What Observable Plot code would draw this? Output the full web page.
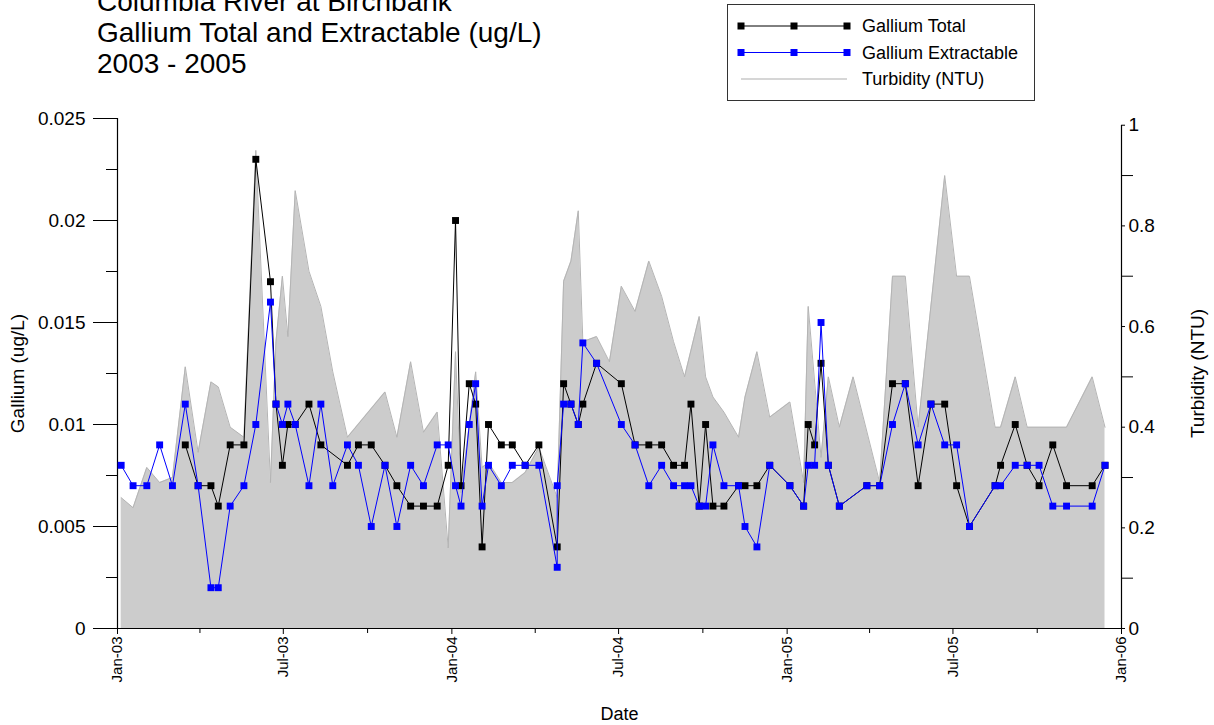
<!DOCTYPE html>
<html>
<head>
<meta charset="utf-8">
<script src="https://cdn.jsdelivr.net/npm/d3@7"></script>
<script src="https://cdn.jsdelivr.net/npm/@observablehq/plot@0.6"></script>
<style>
  html, body { margin: 0; padding: 0; background: #fff; }
  body { width: 1214px; height: 725px; overflow: hidden; position: relative; font-family: "Liberation Sans", Arial, sans-serif; }
  #title { position: absolute; left: 97px; top: -14px; font-size: 28px; line-height: 31px; color: #000; white-space: nowrap; }
  #legend { position: absolute; left: 0; top: 0; }
  #chart { position: absolute; left: 0; top: 0; }
</style>
</head>
<body>
<div id="chart"></div>
<div id="title">Columbia River at Birchbank<br>Gallium Total and Extractable (ug/L)<br>2003 - 2005</div>
<svg id="legend" width="1214" height="110"></svg>
<script>
// ---------- data ----------
const sampleDates = [
  "2003-01-05","2003-01-18","2003-02-02","2003-02-16","2003-03-02","2003-03-16","2003-03-30","2003-04-13","2003-04-21","2003-05-04",
  "2003-05-19","2003-06-01","2003-06-17","2003-06-23","2003-06-30","2003-07-06","2003-07-14","2003-07-29","2003-08-11","2003-08-24",
  "2003-09-09","2003-09-21","2003-10-05","2003-10-20","2003-11-02","2003-11-17","2003-12-01","2003-12-16","2003-12-28","2004-01-05",
  "2004-01-11","2004-01-20","2004-01-27","2004-02-03","2004-02-10","2004-02-24","2004-03-07","2004-03-21","2004-04-05","2004-04-25",
  "2004-04-25","2004-05-02","2004-05-10","2004-05-18","2004-05-23","2004-06-07","2004-07-04","2004-07-19","2004-08-03","2004-08-17",
  "2004-08-30","2004-09-11","2004-09-18","2004-09-27","2004-10-04","2004-10-12","2004-10-24","2004-11-09","2004-11-16","2004-11-29",
  "2004-12-13","2005-01-04","2005-01-19","2005-01-24","2005-01-31","2005-02-07","2005-02-15","2005-02-27","2005-03-29","2005-04-12",
  "2005-04-26","2005-05-10","2005-05-24","2005-06-07","2005-06-22","2005-07-05","2005-07-19","2005-08-16","2005-08-22","2005-09-07",
  "2005-09-20","2005-10-03","2005-10-18","2005-11-02","2005-11-30","2005-12-14"
];
const galliumTotal = [
  null,null,null,null,null,0.009,0.007,0.007,0.006,0.009,
  0.009,0.023,0.017,0.011,0.008,0.010,0.010,0.011,0.009,null,
  0.008,0.009,0.009,0.008,0.007,0.006,0.006,0.006,0.008,0.020,
  0.007,0.012,0.011,0.004,0.010,0.009,0.009,0.008,0.009,0.004,
  null,0.012,0.011,0.010,0.011,0.013,0.012,0.009,0.009,0.009,
  0.008,0.008,0.011,0.006,0.010,0.006,0.006,0.007,0.007,0.007,
  0.008,0.007,0.006,0.010,0.009,0.013,0.008,0.006,0.007,0.007,
  0.012,0.012,0.007,0.011,0.011,0.007,0.005,0.007,0.008,0.010,
  0.008,0.007,0.009,0.007,0.007,0.008
];
const galliumExtractable = [
  0.008,0.007,0.007,0.009,0.007,0.011,0.007,0.002,0.002,0.006,
  0.007,0.010,0.016,0.011,0.010,0.011,0.010,0.007,0.011,0.007,
  0.009,0.008,0.005,0.008,0.005,0.008,0.007,0.009,0.009,0.007,
  0.006,0.010,0.012,0.006,0.008,0.007,0.008,0.008,0.008,0.003,
  0.007,0.011,0.011,0.010,0.014,0.013,0.010,0.009,0.007,0.008,
  0.007,0.007,0.007,0.006,0.006,0.009,0.007,0.007,0.005,0.004,
  0.008,0.007,0.006,0.008,0.008,0.015,0.008,0.006,0.007,0.007,
  0.010,0.012,0.009,0.011,0.009,0.009,0.005,0.007,0.007,0.008,
  0.008,0.008,0.006,0.006,0.006,0.008
];
const turbidityDates = [
  "2003-01-05","2003-01-18","2003-02-02","2003-02-16","2003-03-02","2003-03-16","2003-03-30","2003-04-13","2003-04-21","2003-05-04",
  "2003-05-19","2003-06-01","2003-06-17","2003-06-23","2003-06-30","2003-07-06","2003-07-14","2003-07-29","2003-08-11","2003-08-24",
  "2003-09-09","2003-10-20","2003-11-02","2003-11-17","2003-12-01","2003-12-16","2003-12-28","2004-01-05","2004-01-11","2004-01-27",
  "2004-02-03","2004-02-10","2004-02-24","2004-03-07","2004-03-21","2004-04-05","2004-04-25","2004-05-02","2004-05-10","2004-05-18",
  "2004-05-23","2004-06-07","2004-06-21","2004-07-04","2004-07-19","2004-08-03","2004-08-17","2004-08-30","2004-09-11","2004-09-27",
  "2004-10-04","2004-10-12","2004-10-24","2004-11-09","2004-11-16","2004-11-29","2004-12-13","2005-01-04","2005-01-19","2005-01-24",
  "2005-02-07","2005-02-15","2005-02-27","2005-03-14","2005-04-12","2005-04-26","2005-05-10","2005-05-24","2005-06-22","2005-07-05",
  "2005-07-19","2005-08-16","2005-08-22","2005-09-07","2005-09-20","2005-11-02","2005-11-30","2005-12-14"
];
const turbidity = [
  0.26,0.24,0.32,0.29,0.30,0.52,0.35,0.49,0.48,0.40,
  0.38,0.95,0.29,0.57,0.70,0.58,0.87,0.71,0.64,0.51,
  0.38,0.47,0.38,0.53,0.39,0.43,0.16,0.55,0.27,0.51,
  0.32,0.33,0.29,0.29,0.31,0.36,0.26,0.69,0.73,0.83,
  0.57,0.58,0.53,0.68,0.63,0.73,0.66,0.57,0.50,0.62,
  0.50,0.46,0.43,0.38,0.46,0.55,0.42,0.45,0.29,0.64,
  0.34,0.50,0.40,0.50,0.29,0.70,0.70,0.40,0.90,0.70,
  0.70,0.40,0.40,0.50,0.40,0.40,0.50,0.40
];
const leftTicks = [0, 0.005, 0.01, 0.015, 0.02, 0.025];
const leftTickLabels = ["0", "0.005", "0.01", "0.015", "0.02", "0.025"];
const leftMinorTicks = [0.0025, 0.0075, 0.0125, 0.0175, 0.0225];
const rightTicks = [0, 0.2, 0.4, 0.6, 0.8, 1];
const rightTickLabels = ["0", "0.2", "0.4", "0.6", "0.8", "1"];
const rightMinorTicks = [0.1, 0.3, 0.5, 0.7, 0.9];
const xMajorTicks = ["2003-01-01","2003-07-01","2004-01-01","2004-07-01","2005-01-01","2005-07-01","2006-01-01"];
const xMinorTicks = ["2003-04-01","2003-10-01","2004-04-01","2004-10-01","2005-04-01","2005-10-01"];

// ---------- build ----------
const parse = d3.utcParse("%Y-%m-%d");
const K = 0.02467; // turbidity (NTU) -> left-axis units
const samples = sampleDates.map((d, i) => ({date: parse(d), total: galliumTotal[i], ext: galliumExtractable[i]}));
const totalData = samples.filter(d => d.total != null);
const turb = turbidityDates.map((d, i) => ({date: parse(d), t: turbidity[i] * K}));
const font = "'Liberation Sans', Arial, sans-serif";

const chart = Plot.plot({
  width: 1214,
  height: 725,
  marginLeft: 117,
  marginRight: 93,
  marginTop: 118,
  marginBottom: 97,
  style: {fontFamily: font, fontSize: "17px", color: "#000", background: "transparent", overflow: "visible"},
  x: {type: "utc", domain: [parse("2003-01-01"), parse("2006-01-01")]},
  y: {domain: [0, 0.025]},
  marks: [
    Plot.areaY(turb, {x: "date", y: "t", fill: "#cccccc", curve: "linear"}),
    Plot.lineY(turb, {x: "date", y: "t", stroke: "#b4b4b4", strokeWidth: 1}),
    // frame lines
    Plot.ruleX([parse("2003-01-01")], {y1: 0, y2: 0.025, stroke: "#000", strokeWidth: 1.2}),
    Plot.ruleX([parse("2006-01-01")], {y1: 0, y2: K, stroke: "#000", strokeWidth: 1.2}),
    Plot.ruleY([0], {stroke: "#000", strokeWidth: 1.2}),
    // series
    Plot.line(totalData, {x: "date", y: "total", stroke: "#000", strokeWidth: 1}),
    Plot.dot(totalData, {x: "date", y: "total", symbol: "square", r: 3.9, fill: "#000", stroke: "none"}),
    Plot.line(samples, {x: "date", y: "ext", stroke: "#0000ff", strokeWidth: 1}),
    Plot.dot(samples, {x: "date", y: "ext", symbol: "square", r: 3.9, fill: "#0000ff", stroke: "none"}),
    // axes
    Plot.axisY(leftTicks, {anchor: "left", tickSize: 24, tickPadding: 8, fontSize: 19, label: null,
      tickFormat: d => leftTickLabels[leftTicks.indexOf(d)]}),
    Plot.axisY(leftMinorTicks, {anchor: "left", tickSize: 11, label: null, tickFormat: () => ""}),
    Plot.axisY(rightTicks.map(t => t * K), {anchor: "right", tickSize: 3, tickPadding: 4, fontSize: 19, label: null,
      tickFormat: d => rightTickLabels[rightTicks.findIndex(t => Math.abs(t * K - d) < 1e-9)]}),
    Plot.axisY(rightMinorTicks.map(t => t * K), {anchor: "right", tickSize: 11, label: null, tickFormat: () => ""}),
    Plot.axisX(xMajorTicks.map(parse), {anchor: "bottom", tickSize: 6, tickPadding: 2, tickRotate: -90, fontSize: 15, label: null,
      tickFormat: d3.utcFormat("%b-%y")}),
    Plot.axisX(xMinorTicks.map(parse), {anchor: "bottom", tickSize: 5, label: null, tickFormat: () => ""}),
    // axis titles
    Plot.text(["Gallium (ug/L)"], {frameAnchor: "left", dx: -100, rotate: -90, textAnchor: "middle", fontSize: 19, text: d => d}),
    Plot.text(["Turbidity (NTU)"], {frameAnchor: "right", dx: 76, rotate: -90, textAnchor: "middle", fontSize: 19, text: d => d}),
    Plot.text(["Date"], {frameAnchor: "bottom", dy: 86, lineAnchor: "middle", fontSize: 18, text: d => d})
  ]
});
document.getElementById("chart").appendChild(chart);

// ---------- legend ----------
const legendItems = [
  {label: "Gallium Total", color: "#000", marker: true, width: 1},
  {label: "Gallium Extractable", color: "#0000ff", marker: true, width: 1},
  {label: "Turbidity (NTU)", color: "#c8c8c8", marker: false, width: 1.5}
];
const lg = d3.select("#legend");
lg.append("rect").attr("x", 727.5).attr("y", 4.5).attr("width", 307).attr("height", 96)
  .attr("fill", "#fff").attr("stroke", "#333").attr("stroke-width", 1);
legendItems.forEach((it, i) => {
  const y = 26 + i * 26.5;
  lg.append("line").attr("x1", 741).attr("x2", 847).attr("y1", y).attr("y2", y)
    .attr("stroke", it.color).attr("stroke-width", it.width);
  if (it.marker) {
    [741, 794, 847].forEach(x => lg.append("rect").attr("x", x - 3.5).attr("y", y - 3.5)
      .attr("width", 7).attr("height", 7).attr("fill", it.color));
  }
  lg.append("text").attr("x", 862).attr("y", y).attr("dy", "0.35em")
    .attr("font-family", font).attr("font-size", 18).attr("fill", "#000").text(it.label);
});
</script>
</body>
</html>
